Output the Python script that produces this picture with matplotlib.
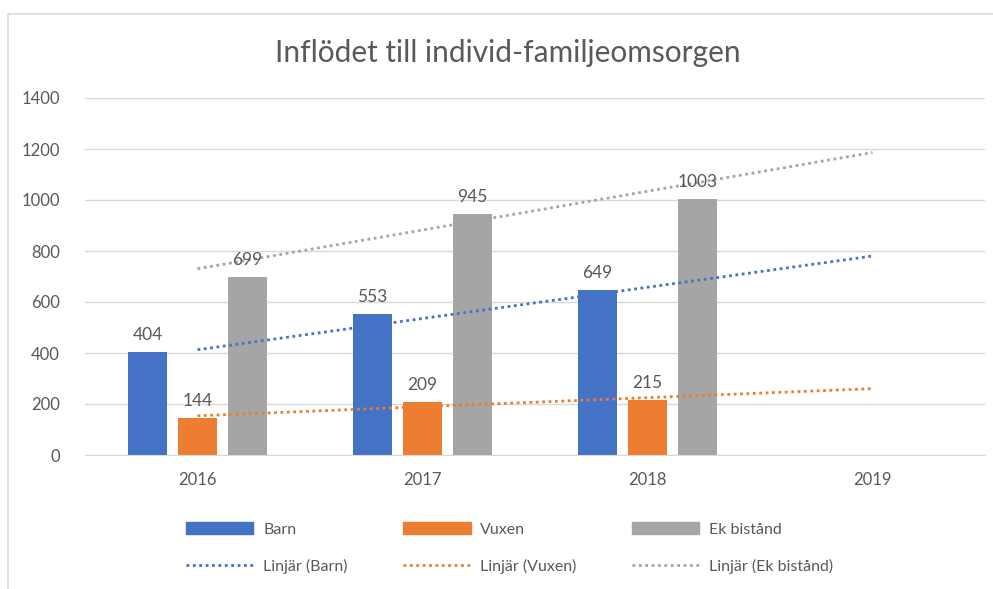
import numpy as np
import matplotlib
matplotlib.use("Agg")
import matplotlib.pyplot as plt
from matplotlib.patches import Rectangle, Patch
from matplotlib.lines import Line2D

years = ["2016", "2017", "2018", "2019"]
barn = [404, 553, 649]
vuxen = [144, 209, 215]
ek = [699, 945, 1003]
series_names = ["Barn", "Vuxen", "Ek bistånd"]
colors = ["#4472C4", "#ED7D31", "#A5A5A5"]
yticks = [0, 200, 400, 600, 800, 1000, 1200, 1400]
title = "Inflödet till individ-familjeomsorgen"

plt.rcParams['font.family'] = ['Lato', 'DejaVu Sans']
W, H = 993, 589
fig = plt.figure(figsize=(W / 100, H / 100), dpi=100)
fig.patch.set_facecolor("white")

# outer frame
fig.add_artist(Rectangle((8 / W, -0.1), 1.2, (H - 14) / H + 0.1, transform=fig.transFigure,
                         fill=False, edgecolor="#D9D9D9", linewidth=1.2))

ax = fig.add_axes([85 / W, (H - 455) / H, 900 / W, (455 - 98) / H])
ax.set_xlim(-0.5, 3.5)
ax.set_ylim(0, 1400)

x = np.arange(len(barn))
bw = 0.172
off = 0.222
data = [barn, vuxen, ek]
text_color = "#595959"
for i, (vals, c) in enumerate(zip(data, colors)):
    xs = x + (i - 1) * off
    ax.bar(xs, vals, width=bw, color=c, zorder=2)
    for xi, v in zip(xs, vals):
        ax.text(xi, v + 35, str(v), ha="center", va="bottom", fontsize=12.5, color=text_color, zorder=4)

# linear trendlines, forecast to 2019
xt = np.array([0, 3])
for vals, c in zip(data, colors):
    k, m = np.polyfit(x, vals, 1)
    ax.plot(xt, k * xt + m, linestyle=(0, (1, 1.3)), color=c, linewidth=2, zorder=3)

ax.set_xticks(range(len(years)))
ax.set_xticklabels(years)
ax.set_yticks(yticks)
ax.tick_params(axis="both", length=0, labelsize=12, colors=text_color)
ax.tick_params(axis="y", pad=18)
ax.tick_params(axis="x", pad=12)
ax.grid(axis="y", color="#D9D9D9", linewidth=1, zorder=0)
ax.set_axisbelow(True)
for s in ax.spines.values():
    s.set_visible(False)
ax.spines["bottom"].set_visible(True)
ax.spines["bottom"].set_color("#D9D9D9")

fig.text(508 / W, 1 - 53 / H, title, ha="center", va="center", fontsize=21.5, color="#595959")

handles = []
labels = []
for name, c in zip(series_names, colors):
    handles.append(Patch(facecolor=c, edgecolor=c))
    labels.append(name)
    handles.append(Line2D([0], [0], color=c, linestyle=(0, (1, 1.3)), linewidth=2))
    labels.append(f"Linjär ({name})")
leg = fig.legend(handles, labels, ncol=3, loc="center left",
                 bbox_to_anchor=(172 / W, 1 - 548 / H), frameon=False,
                 fontsize=11.5, handlelength=4.2, handleheight=0.8, handletextpad=0.6,
                 columnspacing=3.5, labelspacing=1.4, labelcolor=text_color)

fig.savefig("out.png", dpi=100)
